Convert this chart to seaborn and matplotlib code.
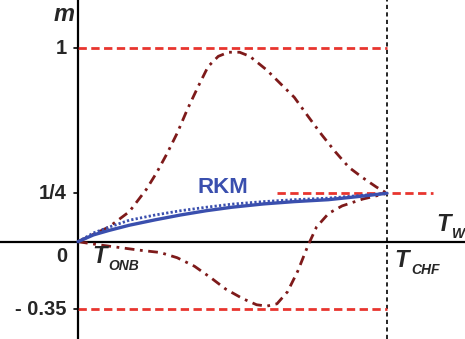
import numpy as np
import pandas as pd
import matplotlib
matplotlib.use("Agg")
import matplotlib.pyplot as plt
import seaborn as sns

# Curves (T normalised: 0 = T_ONB, 1 = T_CHF)
t_upper = [0.0, 0.1, 0.166, 0.221, 0.255, 0.288, 0.321, 0.354, 0.388, 0.421, 0.454, 0.487,
           0.523, 0.556, 0.611, 0.655, 0.70, 0.744, 0.789, 0.833, 0.877, 0.921, 0.966, 1.0]
m_upper = [0.0, 0.076, 0.155, 0.27, 0.358, 0.455, 0.561, 0.684, 0.799, 0.905, 0.958, 0.979,
           0.979, 0.958, 0.887, 0.817, 0.746, 0.649, 0.552, 0.464, 0.384, 0.331, 0.282, 0.25]

t_lower = [0.0, 0.066, 0.133, 0.199, 0.266, 0.321, 0.377, 0.432, 0.478, 0.534, 0.578,
           0.611, 0.644, 0.678, 0.711, 0.744, 0.772, 0.811, 0.855, 0.921, 1.0]
m_lower = [0.0, -0.016, -0.030, -0.044, -0.056, -0.083, -0.127, -0.189, -0.245, -0.295, -0.326,
           -0.333, -0.321, -0.259, -0.153, -0.021, 0.076, 0.146, 0.185, 0.22, 0.25]

t_rkm = [0.0, 0.05, 0.1, 0.166, 0.25, 0.332, 0.415, 0.498, 0.6, 0.7, 0.81, 0.9, 1.0]
m_rkm = [0.0, 0.035, 0.058, 0.085, 0.113, 0.138, 0.16, 0.178, 0.195, 0.207, 0.217, 0.232, 0.25]
m_rkm_dot = [0.0, 0.045, 0.075, 0.111, 0.138, 0.16, 0.178, 0.194, 0.207, 0.217, 0.225, 0.237, 0.25]

levels = [1.0, 0.25, -0.35]
level_labels = ["1", "1/4", "- 0.35"]

sns.set_style("white")
plt.rcParams["font.family"] = ["Liberation Sans", "DejaVu Sans"]

fig = plt.figure(figsize=(4.65, 3.39), dpi=100)
ax = fig.add_axes([0, 0, 1, 1])
ax.set_xlim(-0.2525, 1.2525)
ax.set_ylim(-0.503, 1.249)
ax.axis("off")

maroon = "#7e1a1a"
red = "#e8352f"
blue = "#3a4fae"

# axes lines
ax.axhline(0, color="black", lw=1.6)
ax.axvline(0, color="black", lw=1.6)
ax.axvline(1, color="black", lw=1.2, ls=(0, (2.5, 2)))

# reference levels
ax.plot([0, 1], [1, 1], color=red, lw=2, ls=(0, (3, 1.6)))
ax.plot([0, 1], [-0.35, -0.35], color=red, lw=2, ls=(0, (3, 1.6)))
ax.plot([0.645, 1.15], [0.25, 0.25], color=red, lw=2, ls=(0, (3, 1.6)))

dd = (0, (3.5, 2, 1, 2))
sns.lineplot(x=t_upper, y=m_upper, ax=ax, color=maroon, lw=2, sort=False).lines[-1].set_linestyle(dd)
sns.lineplot(x=t_lower, y=m_lower, ax=ax, color=maroon, lw=2, sort=False).lines[-1].set_linestyle(dd)
sns.lineplot(x=t_rkm, y=m_rkm, ax=ax, color=blue, lw=2.4, sort=False)
sns.lineplot(x=t_rkm, y=m_rkm_dot, ax=ax, color=blue, lw=2, sort=False).lines[-1].set_linestyle((0, (0.8, 0.8)))

# y ticks and labels
for v, lab in zip(levels, level_labels):
    ax.plot([-0.013, 0], [v, v], color="black", lw=1.2)
    ax.text(-0.036, v, lab, ha="right", va="center", fontsize=14.5, fontweight="bold")
ax.text(-0.036, -0.075, "0", ha="right", va="center", fontsize=14.5, fontweight="bold")

ax.text(-0.012, 1.175, "m", ha="right", va="center", fontsize=17, fontweight="bold", style="italic")
ax.text(0.47, 0.28, "RKM", ha="center", va="center", fontsize=16, fontweight="bold", color=blue)

# temperature labels
ax.text(0.045, -0.075, "T", ha="left", va="center", fontsize=17, fontweight="bold", style="italic")
ax.text(0.098, -0.125, "ONB", ha="left", va="center", fontsize=10, fontweight="bold", style="italic")
ax.text(1.025, -0.095, "T", ha="left", va="center", fontsize=17, fontweight="bold", style="italic")
ax.text(1.078, -0.145, "CHF", ha="left", va="center", fontsize=10, fontweight="bold", style="italic")
ax.text(1.16, 0.09, "T", ha="left", va="center", fontsize=17, fontweight="bold", style="italic")
ax.text(1.21, 0.04, "W", ha="left", va="center", fontsize=10, fontweight="bold", style="italic")

fig.savefig("out.png", dpi=100)
